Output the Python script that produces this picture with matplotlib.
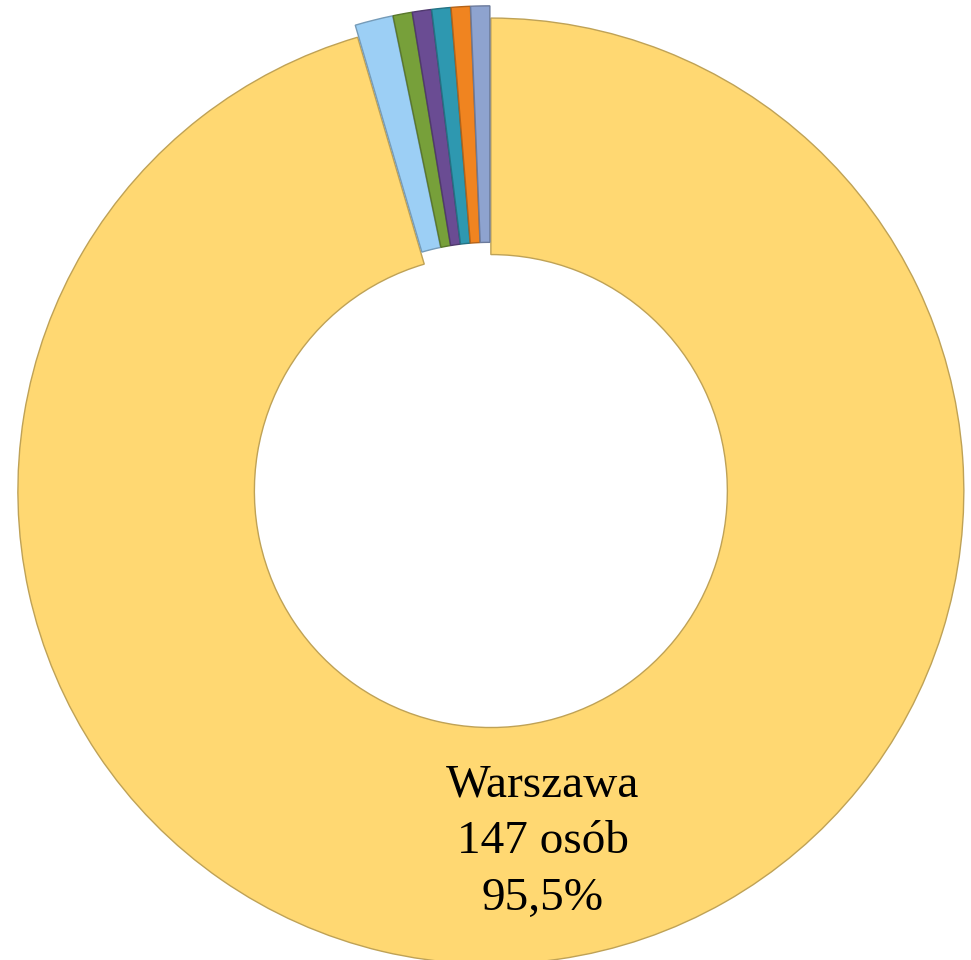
import matplotlib.pyplot as plt
import matplotlib.colors as mcolors

# liczba osób wg miejsca zamieszkania
values = [147, 2, 1, 1, 1, 1, 1]
colors = ["#FFD872", "#9CCFF5", "#77A03A", "#6A4C93", "#2E98B0", "#F08420", "#8EA3CF"]
label_text = "Warszawa\n147 osób\n95,5%"

fig = plt.figure(figsize=(9.71, 9.60), dpi=100)
ax = fig.add_axes([0, 0, 1, 1])

edge = [tuple(c * 0.75 for c in mcolors.to_rgb(col)) for col in colors]
wedges, _ = ax.pie(values, colors=colors, startangle=90, counterclock=False,
                   radius=1.0, explode=[0.013] * len(values),
                   wedgeprops=dict(width=0.5, linewidth=1.0))
for w, ec in zip(wedges, edge):
    w.set_edgecolor(ec)

ax.text(0.112, -0.755, label_text, ha="center", va="center",
        fontsize=34, family="Liberation Serif", linespacing=1.45)

ax.set_aspect("equal")
ax.set_xlim(-1.036, 1.017)
ax.set_ylim(-1.004, 1.025)
ax.axis("off")

fig.savefig("out.png", dpi=100)
